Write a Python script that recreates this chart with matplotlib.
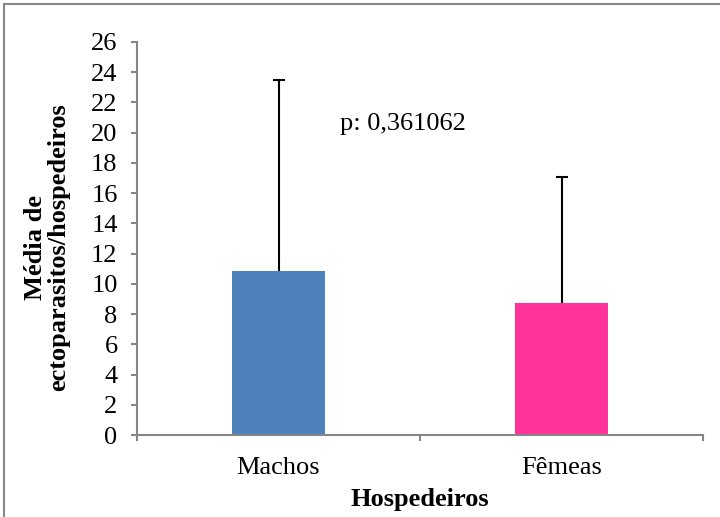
import matplotlib
matplotlib.use("Agg")
import matplotlib.pyplot as plt
from matplotlib.lines import Line2D

categories = ["Machos", "Fêmeas"]
means = [10.85, 8.73]
sd_upper = [12.65, 8.32]
colors = ["#4F81BD", "#FF3399"]
yticks = list(range(0, 27, 2))
p_text = "p: 0,361062"

plt.rcParams['font.family'] = ['Liberation Serif', 'DejaVu Serif']
FS = 19

fig = plt.figure(figsize=(7.2, 5.17), dpi=100)
L, R, B, T = 137, 703, 435, 42
ax = fig.add_axes([L/720, (517-B)/517, (R-L)/720, (B-T)/517])

x = list(range(len(categories)))
ax.bar(x, means, width=0.33, color=colors, zorder=2)
tops = [m + s for m, s in zip(means, sd_upper)]
ax.vlines(x, means, tops, color="black", linewidth=1.5, zorder=1)
ax.plot(x, tops, linestyle="none", marker="_", markersize=9, markeredgewidth=1.5, color="black")

ax.set_xlim(-0.5, 1.5)
ax.set_ylim(0, 26)
ax.set_yticks(yticks)
ax.set_yticklabels([str(t) for t in yticks], fontsize=FS)
ax.set_xticks([-0.5, 0.5, 1.5])
ax.set_xticklabels([])
ax.set_xticks(x, minor=True)
ax.set_xticklabels(categories, minor=True, fontsize=FS)
ax.tick_params(axis="x", which="minor", length=0, pad=16)
ax.tick_params(axis="x", which="major", length=4, color="#868686", width=1.5, direction="out")
ax.tick_params(axis="y", length=4, color="#868686", width=1.5, direction="out", pad=10)

for s in ["top", "right"]:
    ax.spines[s].set_visible(False)
for s in ["left", "bottom"]:
    ax.spines[s].set_color("#868686")
    ax.spines[s].set_linewidth(1.5)

ax.text(0.44, 20.6, p_text, fontsize=FS, ha="center", va="center")

ax.set_xlabel("Hospedeiros", fontsize=FS, fontweight="bold", labelpad=6)
fig.text(47/720, (517-247)/517, "Média de\nectoparasitos/hospedeiros", fontsize=FS,
         fontweight="bold", rotation=90, ha="center", va="center",
         multialignment="center", linespacing=1.05)

fig.add_artist(Line2D([4/720, 4/720], [0, 1 - 4/517], transform=fig.transFigure, color="#888888", linewidth=1.5))
fig.add_artist(Line2D([4/720, 1], [1 - 4/517, 1 - 4/517], transform=fig.transFigure, color="#888888", linewidth=1.5))

fig.savefig("out.png", dpi=100)
